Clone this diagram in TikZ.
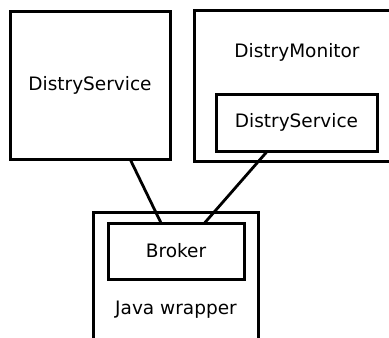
\documentclass[tikz,border=0pt]{standalone}
\usepackage{fontspec}
\setmainfont{DejaVu Sans}
\usetikzlibrary{calc}

\begin{document}
\begin{tikzpicture}[x=1pt,y=-1pt,font=\fontsize{18.5}{22}\selectfont,
    box/.style={draw,line width=3pt,inner sep=0pt,outer sep=0pt},
    link/.style={line width=2.8pt}]
  \useasboundingbox (0,0) rectangle (389,338);
  % standalone service on the left
  \node[box,minimum width=160,minimum height=148] (lsvc) at (90,85) {DistryService};
  % monitor with its own service inside
  \node[box,minimum width=206,minimum height=151] (mon) at (297,85.5) {};
  \node (monlbl) at (297,52) {DistryMonitor};
  \node[box,minimum width=161,minimum height=57] (msvc) at (296.5,122.5) {DistryService};
  % java wrapper around the broker
  \node[box,minimum width=165,minimum height=148] (jw) at (175.5,286) {};
  \node[box,minimum width=136,minimum height=56] (broker) at (176,251) {Broker};
  \node (jwlbl) at (176,310) {Java wrapper};
  % connections to the broker
  \draw[link] ($(lsvc.south west)!0.75!(lsvc.south east)$)
        -- ($(broker.north west)!0.39!(broker.north east)$);
  \draw[link] ($(msvc.south west)!0.32!(msvc.south east)$)
        -- ($(broker.north west)!0.71!(broker.north east)$);
\end{tikzpicture}
\end{document}
